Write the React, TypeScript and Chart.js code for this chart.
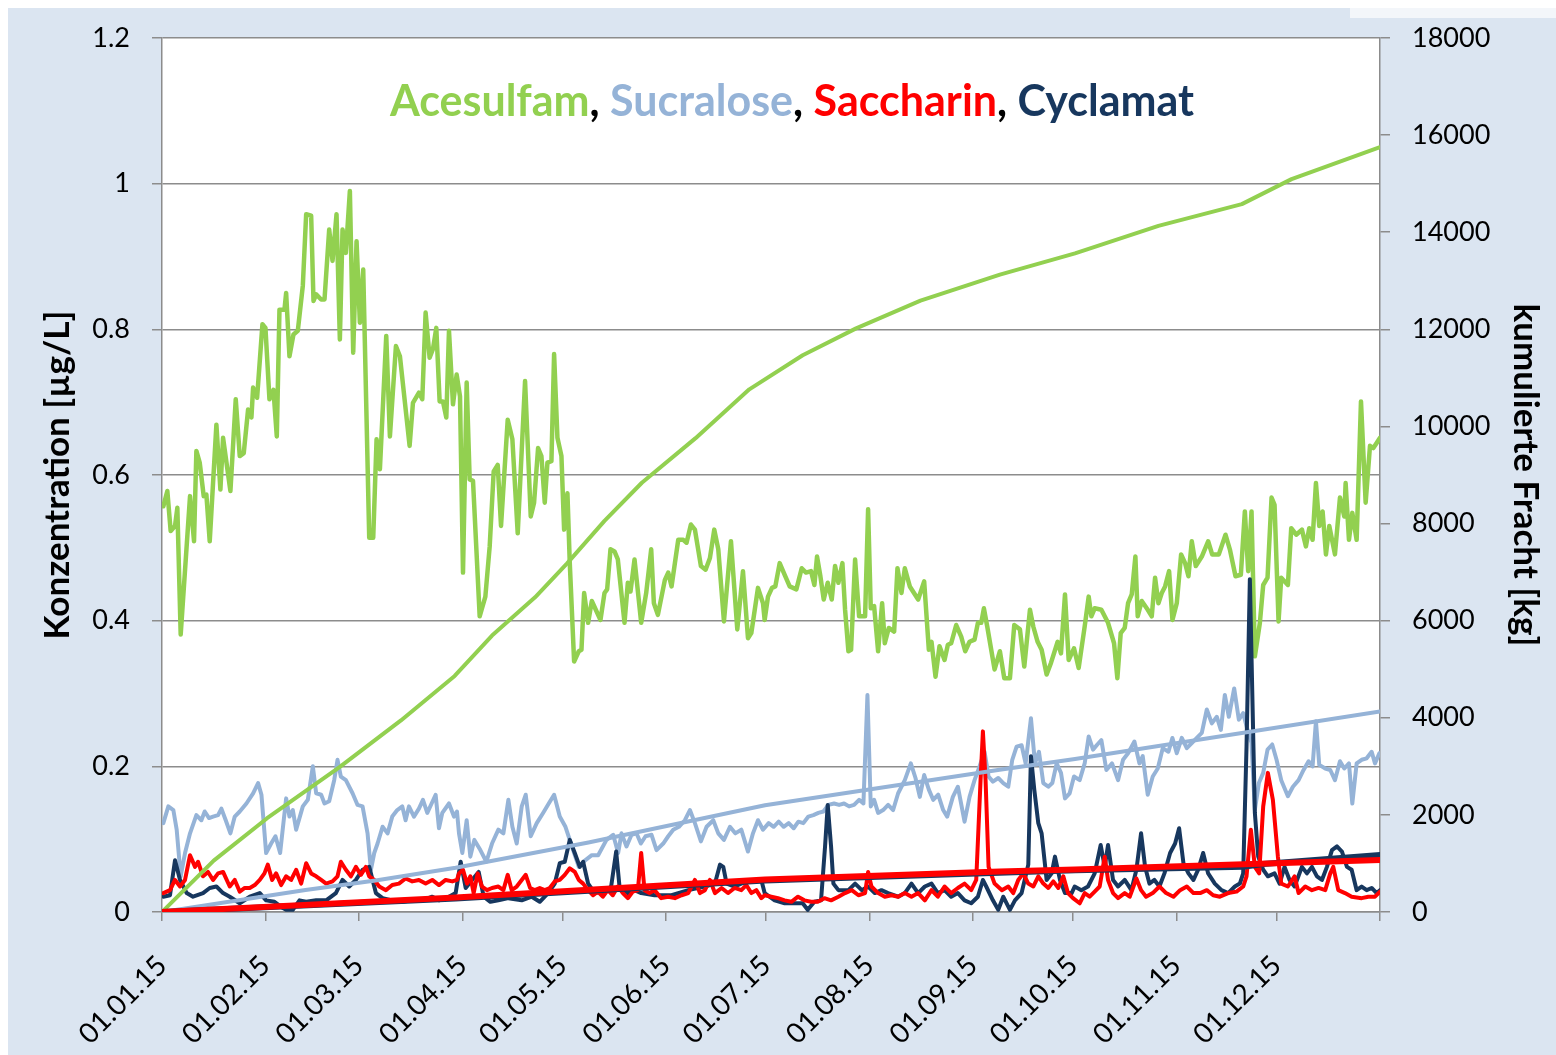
import React, { useEffect, useRef } from 'react';
import { Chart, registerables } from 'chart.js';

Chart.register(...registerables);

// ---- axis / tick data ----
const monthStartDays = [0, 31, 59, 90, 120, 151, 181, 212, 243, 273, 304, 334, 365];
const monthLabels = ['01.01.15', '01.02.15', '01.03.15', '01.04.15', '01.05.15', '01.06.15', '01.07.15', '01.08.15', '01.09.15', '01.10.15', '01.11.15', '01.12.15', ''];
const concMax = 1.2;
const concStep = 0.2;
const loadMax = 18000;
const loadStep = 2000;

// ---- concentration series [day of 2015, µg/L] ----
const acesulfamConc: [number, number][] = [
  [0.4,0.557],[1.6,0.578],[2.6,0.523],[3.9,0.530],[4.6,0.555],[5.6,0.381],[8.4,0.571],[9.6,0.509],[10.3,0.633],[11.3,0.617],[12.5,0.571],[13.3,0.573],[14.3,0.509],[16.3,0.669],[17.5,0.58],[18.3,0.651],[20.5,0.578],[22.1,0.704],[23.3,0.626],[24.5,0.630],[25.8,0.690],[26.8,0.679],[27.3,0.72],[28.5,0.706],[30.1,0.807],[31,0.802],[32.2,0.704],[33.4,0.717],[34.4,0.653],[35.2,0.827],[36.7,0.827],[37.2,0.850],[38.2,0.763],[39.4,0.793],[40.7,0.798],[42.2,0.86],[43.2,0.958],[44.7,0.956],[45.4,0.839],[46.2,0.848],[47.7,0.841],[48.7,0.841],[50.1,0.937],[51.1,0.894],[52.3,0.958],[53.3,0.786],[54.1,0.937],[55.1,0.905],[56.3,0.990],[57.3,0.768],[58.3,0.921],[59.3,0.809],[60.3,0.882],[62.1,0.514],[63.3,0.514],[64.3,0.649],[65.3,0.608],[67.2,0.791],[68.3,0.653],[70.1,0.777],[71.3,0.763],[74.2,0.640],[75.2,0.699],[77,0.713],[78,0.704],[79,0.823],[80.2,0.761],[81.2,0.773],[82.2,0.802],[83.2,0.701],[84.2,0.701],[85.2,0.679],[86,0.798],[87.2,0.697],[88.3,0.738],[89.3,0.708],[90.2,0.466],[91.3,0.727],[92.2,0.594],[93.2,0.592],[95.2,0.406],[96.9,0.433],[98.2,0.502],[99.4,0.605],[100.6,0.614],[101.6,0.530],[103.6,0.676],[105,0.649],[106.6,0.520],[108.8,0.729],[110.5,0.543],[111.5,0.562],[112.7,0.637],[113.7,0.626],[114.7,0.562],[115.5,0.617],[116.7,0.619],[117.5,0.766],[118.5,0.651],[119.7,0.626],[120.5,0.525],[121.5,0.575],[122.2,0.479],[123.5,0.344],[124.9,0.358],[125.7,0.360],[126.5,0.438],[127.7,0.397],[128.8,0.427],[131.4,0.401],[132.6,0.438],[133.4,0.443],[134.4,0.498],[135.6,0.495],[136.6,0.484],[138.6,0.397],[139.6,0.452],[140.4,0.440],[141.6,0.484],[143.6,0.397],[145.1,0.438],[146.6,0.498],[147.4,0.424],[148.6,0.408],[150.7,0.456],[151.7,0.466],[152.7,0.447],[153.7,0.479],[154.7,0.511],[156.2,0.511],[157.2,0.507],[158.5,0.532],[159.7,0.525],[161.5,0.475],[162.9,0.470],[164.2,0.486],[165.5,0.525],[166.7,0.498],[168.4,0.399],[170.5,0.509],[172.4,0.388],[174.1,0.468],[175.6,0.376],[176.6,0.383],[178.6,0.445],[180.1,0.424],[180.6,0.401],
  [181.6,0.433],[182.8,0.445],[183.8,0.447],[185.1,0.479],[186.6,0.463],[188.1,0.447],[190.1,0.443],[191.7,0.472],[193,0.466],[194.5,0.468],[195.5,0.449],[196.3,0.488],[197.3,0.461],[198.3,0.429],[199.5,0.452],[200.7,0.429],[201.7,0.475],[202.7,0.452],[203.9,0.479],[204.7,0.415],[205.7,0.358],[206.5,0.360],[207.7,0.484],[208.9,0.406],[210.7,0.406],[211.6,0.553],[212.4,0.417],[213.4,0.420],[214.6,0.358],[215.8,0.424],[216.6,0.369],[217.8,0.390],[219.4,0.385],[220.4,0.472],[221.6,0.438],[222.6,0.472],[224.1,0.447],[226.6,0.429],[228.4,0.454],[229.8,0.360],[230.6,0.371],[231.8,0.323],[233,0.365],[234.5,0.346],[235.5,0.367],[236.5,0.369],[238,0.394],[239.5,0.378],[240.7,0.358],[242,0.371],[243.5,0.374],[244.5,0.397],[245.5,0.397],[246.3,0.417],[247.3,0.392],[249.5,0.333],[251.1,0.358],[252.4,0.321],[254.1,0.321],[255.4,0.394],[257.1,0.388],[258.4,0.337],[260.1,0.415],[261.1,0.392],[262.4,0.371],[263.6,0.360],[265.1,0.326],[266.4,0.342],[268.4,0.371],[269.4,0.355],[270.6,0.436],[271.7,0.346],[273.3,0.362],
  [274.7,0.335],[276.5,0.392],[277.7,0.433],[278.5,0.406],[279.5,0.417],[281.5,0.415],[283.5,0.397],[285.3,0.369],[286.3,0.321],[287.3,0.383],[288.5,0.390],[289.5,0.424],[290.6,0.436],[291.7,0.488],[292.4,0.406],[293.6,0.427],[295.4,0.415],[296.6,0.406],[297.6,0.459],[298.6,0.424],[299.6,0.438],[300.6,0.447],[301.8,0.468],[302.8,0.401],[304.1,0.424],[305.4,0.491],[306.6,0.479],[307.6,0.461],[308.6,0.509],[309.8,0.475],[311.6,0.488],[313.5,0.509],[314.7,0.491],[316.7,0.491],[318.7,0.518],[320,0.498],[321.7,0.461],[323.3,0.463],[324.5,0.550],[325.5,0.468],[326.5,0.550],[327.5,0.351],[329,0.397],[330,0.449],[331.3,0.459],[332.5,0.569],[333.4,0.559],[334.6,0.399],[335.4,0.459],[337.4,0.449],[338.4,0.527],[339.9,0.518],[341.6,0.525],[342.8,0.502],[343.8,0.527],[344.8,0.511],[345.8,0.589],[346.8,0.530],[347.8,0.550],[348.8,0.491],[349.8,0.530],[351.5,0.491],[353,0.569],[354.3,0.543],[354.7,0.589],[355.7,0.511],[356.7,0.548],[358,0.511],[359.3,0.701],[360.7,0.562],[362,0.640],[363,0.637],[364,0.644],[365,0.651]
];

const sucraloseConc: [number, number][] = [
  [0.4,0.122],[1.9,0.145],[3.4,0.140],[4.4,0.113],[5.6,0.049],[6.9,0.081],[8.4,0.108],[10.3,0.133],[11.8,0.126],[12.8,0.138],[14.1,0.129],[15.3,0.131],[16.8,0.133],[17.8,0.142],[19.1,0.126],[20.5,0.108],[21.8,0.131],[23.3,0.138],[25.3,0.149],[27.3,0.163],[28.8,0.177],[29.8,0.161],[31.2,0.081],[32.7,0.094],[34,0.104],[35.4,0.081],[37.2,0.156],[38.2,0.131],[39.2,0.140],[40.2,0.113],[42.2,0.145],[43.7,0.154],[45.2,0.200],[46.2,0.163],[47.7,0.161],[48.7,0.149],[50.1,0.152],[51.6,0.181],[52.6,0.209],[53.6,0.186],[55.1,0.181],[57.1,0.163],[58.6,0.147],[60.1,0.145],[61.6,0.108],[62.6,0.058],[63.6,0.081],[64.6,0.094],[66.1,0.117],[67.6,0.108],[69,0.131],[70.5,0.140],[72,0.145],[73,0.126],[74,0.145],[75.5,0.131],[77,0.142],[78.2,0.154],[79.5,0.136],[80.8,0.149],[82,0.161],[83,0.115],[84,0.136],[86,0.149],[87.5,0.131],[88.4,0.138],
  [89,0.108],[90,0.081],[91.3,0.126],[92.4,0.076],[93.6,0.099],[95.4,0.085],[97.2,0.069],[98.9,0.094],[100.8,0.113],[102.3,0.108],[103.8,0.154],[105,0.117],[106.3,0.094],[107.8,0.145],[109,0.161],[110.5,0.104],[112.3,0.122],[114.2,0.136],[115.9,0.149],[117.5,0.161],[119.2,0.131],[120.9,0.117],[122.2,0.099],[123.5,0.081],[124.9,0.062],[126.8,0.071],[128.8,0.078],[130.7,0.078],[133.2,0.099],[135.2,0.106],[136.7,0.081],[137.7,0.108],[139.2,0.090],[140.7,0.106],[142.2,0.108],[143.5,0.094],[144.9,0.104],[146.7,0.106],[148.2,0.085],[150.2,0.094],[151.7,0.104],[153.2,0.113],[154.9,0.117],[156.7,0.126],[158.2,0.140],[159.7,0.122],[161.5,0.097],[163.2,0.117],[165.2,0.126],[166.7,0.108],[168.4,0.099],[170.2,0.117],[171.8,0.108],[173.6,0.113],[175.6,0.083],[177.1,0.108],[178.6,0.126],[180.1,0.113],
  [181.8,0.122],[183.3,0.117],[184.8,0.124],[186.3,0.117],[187.8,0.122],[189.3,0.115],[190.7,0.124],[192.2,0.122],[193.7,0.131],[195.2,0.133],[196.7,0.136],[198.2,0.138],[199.7,0.147],[201.4,0.149],[202.9,0.147],[204.4,0.149],[205.9,0.145],[207.4,0.147],[208.9,0.154],[210.2,0.149],[211.4,0.298],[212.4,0.145],[213.4,0.154],[214.6,0.136],[216.1,0.140],[217.6,0.147],[219.1,0.140],[220.6,0.163],[222.6,0.181],[224.4,0.204],[225.8,0.184],[227.1,0.158],[228.4,0.188],[229.8,0.168],[231.1,0.154],[232.6,0.161],[234.1,0.140],[235.3,0.131],[237,0.158],[238.5,0.172],[240.5,0.124],[242,0.158],[243.5,0.181],[245,0.200],[246.5,0.220],[247.7,0.186],[249,0.179],[250.6,0.184],[252.1,0.177],[253.6,0.172],[254.8,0.209],[256.1,0.227],[257.6,0.229],[258.8,0.204],[260.4,0.266],[261.6,0.204],[262.8,0.220],[264.1,0.177],[265.6,0.172],[266.8,0.177],[268.1,0.204],[269.4,0.191],[270.6,0.156],[272,0.163],[273.3,0.186],
  [275,0.181],[276.5,0.204],[277.7,0.241],[279,0.223],[280.3,0.230],[281.5,0.236],[283,0.195],[284.7,0.204],[286.5,0.181],[288,0.209],[289.5,0.218],[291.4,0.234],[292.9,0.204],[293.9,0.214],[295.4,0.161],[296.9,0.186],[298.4,0.197],[299.9,0.225],[301.6,0.220],[302.8,0.239],[304.1,0.218],[305.6,0.239],[307.1,0.225],[308.6,0.232],[310.1,0.239],[311.6,0.246],[313.1,0.278],[314.6,0.259],[316.1,0.268],[317.3,0.250],[318.5,0.298],[319.7,0.268],[321.3,0.307],[322.7,0.264],[324,0.273],[325.3,0.250],[326.5,0.232],[327.5,0.140],[328.7,0.177],[330,0.191],[331.3,0.223],[332.7,0.230],[334,0.209],[335.4,0.181],[337.4,0.159],[338.9,0.172],[340.6,0.181],[342.1,0.195],[343.6,0.207],[344.8,0.200],[345.8,0.262],[346.8,0.202],[348.6,0.197],[350.1,0.195],[351.5,0.181],[353,0.207],[354.3,0.197],[355.7,0.204],[356.7,0.149],[358,0.204],[359.5,0.209],[361,0.211],[362.5,0.220],[363.5,0.204],[364.8,0.218]
];

const saccharinConc: [number, number][] = [
  [0.4,0.026],[2.4,0.030],[3.9,0.044],[5.4,0.035],[6.9,0.044],[8.4,0.078],[9.9,0.062],[10.8,0.069],[12.3,0.049],[13.8,0.055],[15.3,0.044],[16.8,0.053],[18.3,0.055],[20.3,0.035],[21.8,0.044],[23.3,0.028],[24.8,0.033],[26.3,0.033],[27.8,0.037],[29.3,0.044],[30.7,0.053],[31.7,0.065],[33,0.044],[34.2,0.053],[35.7,0.037],[37.2,0.049],[38.7,0.044],[40.2,0.058],[41.7,0.039],[43.2,0.067],[44.7,0.053],[46.2,0.049],[47.7,0.044],[49.2,0.039],[51.1,0.042],[52.6,0.049],[53.6,0.069],[55.1,0.058],[56.6,0.049],[58.1,0.062],[59.6,0.051],[61.1,0.062],[62.1,0.049],[63.6,0.044],[65.1,0.035],[67.1,0.030],[69,0.037],[71,0.039],[73,0.046],[75,0.042],[77,0.044],[79,0.039],[81,0.044],[83,0.037],[85,0.044],[87,0.042],[88.4,0.044],
  [89,0.053],[90.2,0.058],[91.4,0.039],[92.4,0.049],[93.4,0.026],[94.6,0.053],[95.9,0.035],[97.4,0.030],[98.9,0.033],[100.8,0.035],[102.3,0.030],[103.6,0.051],[104.8,0.030],[106.3,0.035],[107.8,0.044],[109,0.051],[110.3,0.033],[111.7,0.030],[113.2,0.033],[114.7,0.030],[116.2,0.033],[117.7,0.042],[119.2,0.044],[120.7,0.051],[122.2,0.060],[123.7,0.055],[124.9,0.044],[126.2,0.039],[127.7,0.030],[129.2,0.023],[130.6,0.028],[132.1,0.021],[133.6,0.030],[135.1,0.023],[136.6,0.035],[138.1,0.026],[139.6,0.019],[141.1,0.028],[142.6,0.030],[143.6,0.081],[144.6,0.030],[146.1,0.026],[147.6,0.030],[149.6,0.019],[151.7,0.021],[153.7,0.019],[155.7,0.023],[157.7,0.026],[159.7,0.044],[161.2,0.026],[162.7,0.030],[164.2,0.044],[165.7,0.026],[167.7,0.033],[169.6,0.026],[171.6,0.033],[173.6,0.030],[175.1,0.037],[176.6,0.026],[178.1,0.030],[179.6,0.019],
  [180.6,0.023],[182.6,0.021],[184.6,0.019],[186.6,0.016],[188.6,0.014],[190.6,0.021],[192.5,0.016],[194.5,0.014],[196.5,0.014],[198.5,0.019],[200.5,0.016],[202.7,0.021],[204.7,0.026],[206.7,0.030],[208.7,0.023],[210.7,0.026],[211.6,0.055],[212.6,0.035],[214.6,0.026],[216.6,0.021],[218.6,0.023],[220.6,0.021],[222.6,0.026],[224.6,0.021],[226.6,0.026],[228.6,0.016],[230.6,0.030],[232.5,0.021],[234.5,0.035],[236.5,0.026],[238.5,0.033],[240.5,0.039],[242.5,0.030],[244,0.044],[245.3,0.181],[246,0.248],[246.8,0.181],[247.7,0.062],[249.5,0.039],[251.7,0.030],[253.6,0.035],[255.1,0.026],[256.6,0.044],[258.1,0.053],[259.6,0.039],[261.1,0.035],[262.6,0.049],[264.1,0.039],[265.6,0.033],[267.1,0.042],[268.6,0.033],[270.1,0.049],[271.5,0.026],[273,0.019],
  [275,0.012],[276.5,0.026],[278,0.021],[279.5,0.028],[281,0.035],[282.5,0.076],[283.5,0.044],[285,0.026],[286.5,0.019],[288.5,0.026],[290,0.021],[292,0.046],[293.4,0.030],[294.9,0.021],[296.9,0.026],[298.9,0.035],[300.9,0.026],[303.1,0.021],[305.1,0.030],[307.1,0.035],[309.1,0.026],[311.1,0.026],[313.1,0.030],[315,0.023],[317,0.021],[319.5,0.026],[322,0.028],[324,0.035],[325,0.049],[326.3,0.113],[327.5,0.062],[328.8,0.053],[330,0.145],[331.4,0.191],[332.9,0.154],[334.4,0.076],[335.4,0.039],[337.4,0.035],[339.4,0.049],[340.6,0.026],[342.6,0.035],[344.6,0.030],[346.6,0.033],[348.6,0.030],[350.1,0.053],[351,0.062],[352.5,0.030],[354.5,0.026],[356.5,0.021],[359.5,0.019],[361.5,0.021],[363.5,0.021],[365,0.028]
];

const cyclamatConc: [number, number][] = [
  [0.4,0.021],[2.4,0.023],[3.9,0.071],[5.4,0.044],[7.4,0.026],[9.3,0.021],[12.3,0.026],[14.3,0.033],[16.3,0.035],[18.3,0.026],[20.3,0.021],[23.3,0.012],[26.3,0.021],[29.3,0.026],[31.2,0.016],[33.7,0.014],[35.7,0.007],[37.2,0.003],[39.2,0.003],[41.2,0.016],[43.2,0.014],[46.2,0.016],[49.2,0.016],[52.1,0.026],[54.1,0.044],[56.1,0.035],[58.1,0.044],[60.1,0.058],[62.1,0.062],[64.1,0.026],[66.1,0.019],[69,0.016],[72,0.014],[75,0.016],[78,0.016],[81,0.021],[83,0.016],[86,0.021],[88,0.026],
  [89.5,0.069],[91,0.033],[92.9,0.044],[94.9,0.055],[96.4,0.021],[98.4,0.014],[100.8,0.016],[103.8,0.019],[107.8,0.016],[110.8,0.021],[113.2,0.014],[115.7,0.026],[117.7,0.039],[119.2,0.067],[120.7,0.069],[122.2,0.099],[123.7,0.081],[125.2,0.062],[126.2,0.069],[127.7,0.039],[129.7,0.026],[132.6,0.028],[134.6,0.035],[136.1,0.083],[137.1,0.035],[139.6,0.026],[141.6,0.030],[143.6,0.026],[147.6,0.023],[152.7,0.023],[157.7,0.030],[162.7,0.035],[165.7,0.039],[167.2,0.065],[168.2,0.062],[169.2,0.039],[171.6,0.035],[173.6,0.039],[175.6,0.042],[177.6,0.044],[179.6,0.044],
  [180.6,0.026],[183.6,0.016],[186.6,0.012],[189.6,0.012],[192,0.012],[193.5,0.003],[195.5,0.014],[197.5,0.016],[198.7,0.090],[199.5,0.147],[200.5,0.090],[201.2,0.039],[202.7,0.030],[205.7,0.030],[207.7,0.039],[209.7,0.030],[211.6,0.035],[213.6,0.026],[215.6,0.030],[217.6,0.026],[220.6,0.021],[222.6,0.026],[224.6,0.039],[226.6,0.026],[228.6,0.035],[230.6,0.039],[232.5,0.026],[234.5,0.030],[236.5,0.021],[238.5,0.026],[240.5,0.016],[242.5,0.012],[244.5,0.021],[246,0.044],[247,0.035],[249,0.016],[250.6,0.003],[252.1,0.021],[254.1,0.003],[255.6,0.016],[257.6,0.026],[259.6,0.065],[260.4,0.214],[261.4,0.168],[262.6,0.122],[263.6,0.108],[265.1,0.044],[266.6,0.053],[267.6,0.076],[269.1,0.044],[270.6,0.026],[272.6,0.026],
  [273.5,0.035],[275.5,0.030],[277.5,0.035],[279.5,0.053],[281.3,0.092],[282.5,0.062],[283.5,0.092],[285,0.044],[286.5,0.035],[288.5,0.044],[290.5,0.030],[292,0.058],[293.4,0.108],[294.6,0.062],[295.9,0.039],[297.4,0.044],[298.9,0.035],[300.4,0.053],[302.1,0.081],[303.6,0.094],[304.8,0.115],[306.1,0.067],[307.6,0.053],[309.1,0.044],[310.5,0.058],[312,0.081],[313.5,0.053],[315.5,0.039],[317.5,0.030],[319.5,0.026],[321.5,0.035],[323,0.039],[324,0.053],[325,0.227],[326,0.457],[327.5,0.136],[328.5,0.076],[330,0.058],[331.4,0.049],[333.4,0.053],[334.9,0.039],[336.4,0.062],[337.9,0.044],[339.4,0.035],[341.6,0.062],[343.1,0.053],[344.6,0.062],[346.1,0.049],[347.6,0.044],[349.1,0.062],[350.6,0.085],[352.1,0.090],[353.6,0.083],[355.1,0.062],[356.5,0.058],[358,0.030],[359.5,0.035],[361,0.030],[362.5,0.033],[364,0.026],[365,0.030]
];

// ---- cumulative load series [day of 2015, kg] ----
const acesulfamLoad: [number, number][] = [
  [0,0],[15.5,1058],[31.5,1932],[53.2,2982],[71.6,3945],[87.7,4862],[98.9,5693],[111.8,6481],[121.4,7180],[132.6,8054],[143.8,8840],[159.9,9759],[176,10764],[192,11465],[208,12020],[227.3,12590],[251.1,13127],[273.6,13565],[298.6,14131],[323.6,14578],[338.5,15094],[365,15754]
];
const sucraloseLoad: [number, number][] = [
  [0,0],[43,454],[64,650],[88,910],[127.8,1430],[180.7,2200],[251,2930],[273.6,3150],[365,4130]
];
const saccharinLoad: [number, number][] = [
  [0,0],[88,300],[180.7,670],[251,835],[273.6,875],[365,1070]
];
const cyclamatLoad: [number, number][] = [
  [0,0],[88,280],[180.7,650],[273.6,860],[324,930],[330,990],[365,1175]
];

const GREEN = '#92D050';
const LIGHTBLUE = '#95B3D7';
const RED = '#FF0000';
const NAVY = '#17375E';
const GRID = '#8c8c8c';
const FONT = 'Lato';

const toXY = (arr: [number, number][]) => arr.map(([x, y]) => ({ x, y }));

const plotBg = {
  id: 'plotBg',
  beforeDraw(chart: any) {
    const { ctx, chartArea } = chart;
    if (!chartArea) return;
    ctx.save();
    ctx.fillStyle = '#ffffff';
    ctx.fillRect(chartArea.left, chartArea.top, chartArea.right - chartArea.left, chartArea.bottom - chartArea.top);
    ctx.restore();
  },
};

export default function App() {
  const canvasRef = useRef<HTMLCanvasElement | null>(null);

  useEffect(() => {
    if (!canvasRef.current) return;
    const line = (label: string, data: [number, number][], color: string, width: number, axis: string, order: number) => ({
      label,
      data: toXY(data),
      borderColor: color,
      backgroundColor: color,
      borderWidth: width,
      pointRadius: 0,
      tension: 0,
      fill: false,
      yAxisID: axis,
      order,
      borderJoinStyle: 'round' as const,
      borderCapStyle: 'round' as const,
    });

    const chart = new Chart(canvasRef.current, {
      type: 'line',
      data: {
        datasets: [
          line('Acesulfam kumuliert', acesulfamLoad, GREEN, 4, 'yLoad', 2),
          line('Sucralose kumuliert', sucraloseLoad, LIGHTBLUE, 4, 'yLoad', 3),
          line('Saccharin kumuliert', saccharinLoad, RED, 6, 'yLoad', 0),
          line('Cyclamat kumuliert', cyclamatLoad, NAVY, 6, 'yLoad', 1),
          line('Acesulfam', acesulfamConc, GREEN, 4.5, 'yConc', 8),
          line('Sucralose', sucraloseConc, LIGHTBLUE, 4, 'yConc', 7),
          line('Cyclamat', cyclamatConc, NAVY, 4, 'yConc', 5),
          line('Saccharin', saccharinConc, RED, 4, 'yConc', 4),
        ],
      },
      options: {
        responsive: false,
        animation: false,
        events: [],
        layout: { padding: { top: 30, left: 0, right: 0, bottom: 0 } },
        plugins: { legend: { display: false }, tooltip: { enabled: false }, title: { display: false } },
        scales: {
          x: {
            type: 'linear',
            min: 0,
            max: 365,
            afterBuildTicks: (scale: any) => {
              scale.ticks = monthStartDays.map((v) => ({ value: v }));
            },
            afterFit: (scale: any) => {
              scale.height = 143;
            },
            ticks: {
              autoSkip: false,
              maxRotation: 45,
              minRotation: 45,
              padding: 28,
              color: '#000',
              font: { family: FONT, size: 28 },
              callback: (_v: any, i: number) => monthLabels[i],
            },
            grid: { drawOnChartArea: false, drawTicks: true, tickLength: 9, color: GRID, lineWidth: 1.5 },
            border: { display: true, color: GRID, width: 1.5 },
          },
          yConc: {
            type: 'linear',
            position: 'left',
            min: 0,
            max: concMax,
            afterFit: (scale: any) => {
              scale.width = 154;
              scale.paddingTop = 0;
              scale.paddingBottom = 0;
            },
            ticks: {
              stepSize: concStep,
              padding: 22,
              color: '#000',
              font: { family: FONT, size: 27 },
              callback: (v: any) => String(Number(Number(v).toFixed(1))),
            },
            grid: { drawOnChartArea: true, drawTicks: true, tickLength: 10, color: GRID, lineWidth: 1.5 },
            border: { display: true, color: GRID, width: 1.5 },
            title: {
              display: true,
              text: 'Konzentration [µg/L]',
              color: '#000',
              font: { family: FONT, size: 35, weight: 'bold' },
              padding: { top: 29, bottom: 0 },
            },
          },
          yLoad: {
            type: 'linear',
            position: 'right',
            min: 0,
            max: loadMax,
            afterFit: (scale: any) => {
              scale.width = 176;
              scale.paddingTop = 0;
              scale.paddingBottom = 0;
            },
            ticks: {
              stepSize: loadStep,
              padding: 22,
              color: '#000',
              font: { family: FONT, size: 27 },
              callback: (v: any) => String(v),
            },
            grid: { drawOnChartArea: false, drawTicks: true, tickLength: 10, color: GRID, lineWidth: 1.5 },
            border: { display: true, color: GRID, width: 1.5 },
            title: {
              display: true,
              text: 'kumulierte Fracht [kg]',
              color: '#000',
              font: { family: FONT, size: 35, weight: 'bold' },
              padding: { top: 10, bottom: 0 },
            },
          },
        },
      } as any,
      plugins: [plotBg],
    });
    return () => chart.destroy();
  }, []);

  const titleStyle: React.CSSProperties = {
    position: 'absolute',
    left: 0,
    top: 66,
    width: 1568,
    textAlign: 'center',
    fontFamily: FONT,
    fontWeight: 'bold',
    fontSize: 43,
    lineHeight: '52px',
    whiteSpace: 'nowrap',
    color: '#000',
  };

  return (
    <div style={{ position: 'fixed', left: 8, top: 8, width: 1548, height: 1047, background: '#dbe5f1', overflow: 'hidden' }}>
      <div style={{ position: 'absolute', left: 1342, top: 0, width: 206, height: 10, background: '#f3f6fa' }} />
      <canvas ref={canvasRef} width={1548} height={1047} style={{ position: 'absolute', left: 0, top: 0, width: 1548, height: 1047 }} />
      <div style={titleStyle}>
        <span style={{ color: GREEN }}>Acesulfam</span>
        <span>, </span>
        <span style={{ color: LIGHTBLUE }}>Sucralose</span>
        <span>, </span>
        <span style={{ color: RED }}>Saccharin</span>
        <span>, </span>
        <span style={{ color: NAVY }}>Cyclamat</span>
      </div>
    </div>
  );
}
